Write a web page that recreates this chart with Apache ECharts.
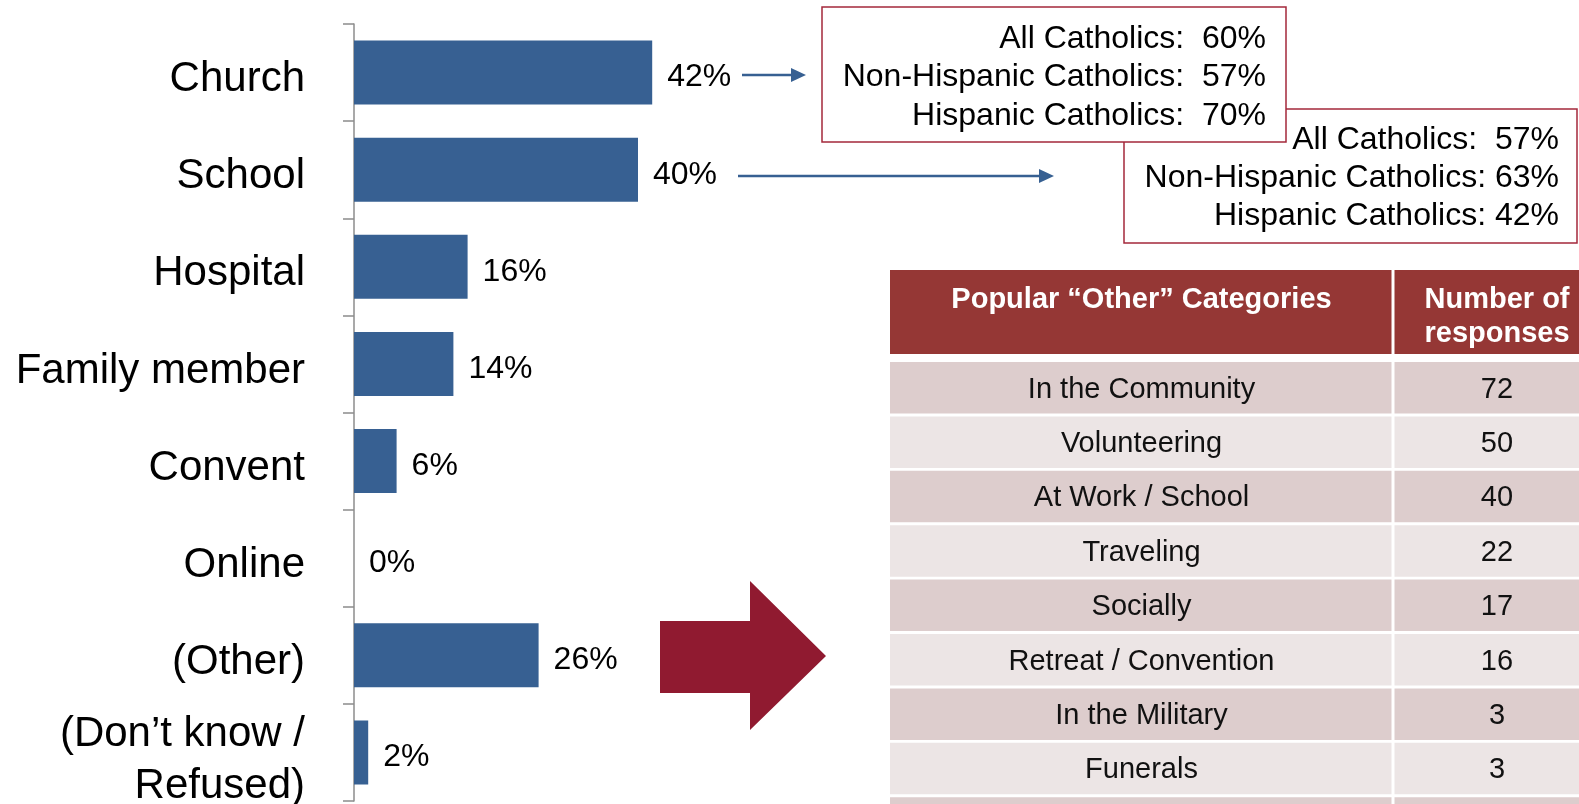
<!DOCTYPE html>
<html>
<head>
<meta charset="utf-8">
<script src="https://cdn.jsdelivr.net/npm/echarts@6/dist/echarts.min.js"></script>
<style>
  html, body { margin: 0; padding: 0; background: #fff; }
  #chart { width: 1579px; height: 804px; }
</style>
</head>
<body>
<div id="chart"></div>
<script>
// bar chart data
const categories = ['Church', 'School', 'Hospital', 'Family member', 'Convent', 'Online', '(Other)', '(Don’t know /\nRefused)']
const percents = [42, 40, 16, 14, 6, 0, 26, 2]

// callouts
const churchLines = ['All Catholics:  60%', 'Non-Hispanic Catholics:  57%', 'Hispanic Catholics:  70%']
const schoolLines = ['All Catholics:  57%', 'Non-Hispanic Catholics: 63%', 'Hispanic Catholics: 42%']

// "Other" table
const tableHeader = ['Popular “Other” Categories', 'Number of\nresponses']
const otherCategories = ['In the Community', 'Volunteering', 'At Work / School', 'Traveling', 'Socially', 'Retreat / Convention', 'In the Military', 'Funerals', '']
const otherCounts = ['72', '50', '40', '22', '17', '16', '3', '3', '']

const FONT = '"Liberation Sans", Arial, sans-serif'
const BLUE = '#376092'
const BOX_RED = '#a4283b'

const chart = echarts.init(document.getElementById('chart'))

function calloutBox(x, y, w, h, lines, textRight, lineY) {
  const els = [{
    type: 'rect',
    shape: { x, y, width: w, height: h },
    style: { fill: '#fff', stroke: BOX_RED, lineWidth: 1.5 }
  }]
  lines.forEach((t, i) => {
    els.push({
      type: 'text',
      style: { text: t, x: textRight, y: lineY[i], font: '32px ' + FONT, fill: '#000', align: 'right', verticalAlign: 'middle' }
    })
  })
  return { type: 'group', children: els }
}

function arrow(x1, x2, y) {
  return {
    type: 'group',
    children: [
      { type: 'line', shape: { x1, y1: y, x2: x2 - 12, y2: y }, style: { stroke: BLUE, lineWidth: 2.5 } },
      { type: 'polygon', shape: { points: [[x2 - 15, y - 7], [x2, y], [x2 - 15, y + 7]] }, style: { fill: BLUE } }
    ]
  }
}

function buildTable() {
  const els = []
  const x0 = 890, xDiv = 1393, x1 = 1605
  const headTop = 270, headH = 84
  els.push({ type: 'rect', shape: { x: x0, y: headTop, width: xDiv - x0 - 1.5, height: headH }, style: { fill: '#953735' } })
  els.push({ type: 'rect', shape: { x: xDiv + 1.5, y: headTop, width: x1 - xDiv, height: headH }, style: { fill: '#953735' } })
  els.push({
    type: 'text',
    style: { text: tableHeader[0], x: (x0 + xDiv) / 2, y: 300, font: 'bold 29px ' + FONT, fill: '#fff', align: 'center', verticalAlign: 'middle' }
  })
  els.push({
    type: 'text',
    style: { text: tableHeader[1], x: 1497, y: 317, font: 'bold 29px ' + FONT, fill: '#fff', align: 'center', verticalAlign: 'middle', lineHeight: 34 }
  })
  const rowTop = 362, pitch = 54.4, rowH = 51.5
  otherCategories.forEach((name, i) => {
    const y = rowTop + i * pitch
    const fill = i % 2 === 0 ? '#ddcdcd' : '#ece5e5'
    els.push({ type: 'rect', shape: { x: x0, y, width: xDiv - x0 - 1.5, height: rowH }, style: { fill } })
    els.push({ type: 'rect', shape: { x: xDiv + 1.5, y, width: x1 - xDiv, height: rowH }, style: { fill } })
    els.push({
      type: 'text',
      style: { text: name, x: (x0 + xDiv) / 2, y: y + 27.5, font: '29px ' + FONT, fill: '#111', align: 'center', verticalAlign: 'middle' }
    })
    els.push({
      type: 'text',
      style: { text: otherCounts[i], x: 1497, y: y + 27.5, font: '29px ' + FONT, fill: '#111', align: 'center', verticalAlign: 'middle' }
    })
  })
  return { type: 'group', children: els }
}

chart.setOption({
  animation: false,
  grid: { left: 354, top: 24, width: 710, height: 777, containLabel: false, outerBoundsMode: 'none' },
  xAxis: { type: 'value', min: 0, max: 100, show: false, splitLine: { show: false } },
  yAxis: {
    type: 'category',
    inverse: true,
    data: categories,
    axisLine: { show: true, lineStyle: { color: '#8c8c8c', width: 1.5 } },
    axisTick: { show: true, length: 11, lineStyle: { color: '#8c8c8c', width: 1.5 } },
    axisLabel: {
      margin: 49,
      align: 'right',
      // top padding nudges the text a little lower, like the original slide
      formatter: v => v.split('\n').map((l, i) => (i === 0 ? '{a|' : '{b|') + l + '}').join('\n'),
      rich: {
        a: { fontSize: 42, fontFamily: FONT, color: '#000', lineHeight: 50, padding: [14, 0, 0, 0] },
        b: { fontSize: 42, fontFamily: FONT, color: '#000', lineHeight: 50, padding: [18, 0, 0, 0] }
      }
    }
  },
  series: [{
    type: 'bar',
    data: percents,
    barWidth: 64,
    itemStyle: { color: BLUE },
    label: { show: true, position: 'right', distance: 15, formatter: '{c}%', fontSize: 32, fontFamily: FONT, color: '#000', offset: [0, 5] }
  }],
  graphic: [
    calloutBox(1124, 109, 453, 134, schoolLines, 1559, [140, 178, 216]),
    calloutBox(822, 7, 464, 135, churchLines, 1266, [39, 77, 116]),
    arrow(742, 806, 75),
    arrow(738, 1054, 176),
    {
      type: 'polygon',
      shape: { points: [[660, 621], [750, 621], [750, 581], [826, 656], [750, 730], [750, 693], [660, 693]] },
      style: { fill: '#901a30' }
    },
    buildTable()
  ]
})
</script>
</body>
</html>
